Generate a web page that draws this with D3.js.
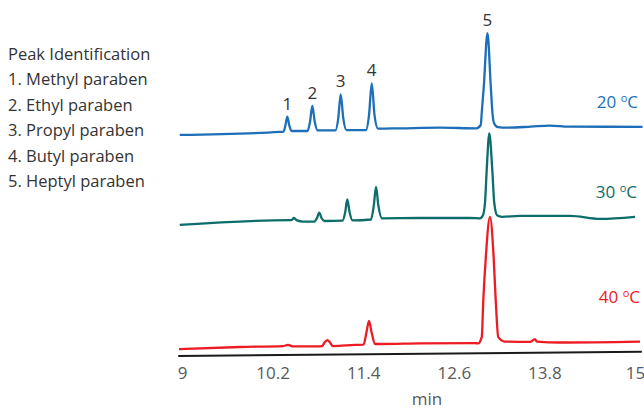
<!DOCTYPE html>
<html>
<head>
<meta charset="utf-8">
<script src="https://cdn.jsdelivr.net/npm/d3@7"></script>
<style>
  body { margin: 0; background: #fff; }
  text { font-family: "Open Sans", "Noto Sans", sans-serif; font-weight: 400; }
</style>
</head>
<body>
<svg id="chart" width="644" height="410"></svg>
<script>

// retention time (min) vs detector signal
const trace20 = [
  [8.97, 1.7], [10.30, 2.7],
  [10.344, 2.8], [10.371, 5.0], [10.395, 7.8], [10.420, 5.0], [10.450, 3.0],
  [10.662, 3.0], [10.695, 6.0], [10.726, 11.4], [10.759, 6.0], [10.795, 3.2],
  [11.033, 3.2], [11.070, 7.3], [11.102, 15.2], [11.136, 7.3], [11.179, 3.3],
  [11.437, 3.3], [11.477, 8.3], [11.513, 18.9], [11.550, 8.3], [11.596, 3.8],
  [11.887, 3.9], [12.417, 4.1], [12.900, 3.9],
  [12.957, 5.0], [12.970, 9.0], [12.997, 17.8], [13.046, 35.6], [13.090, 17.8], [13.112, 9.0], [13.132, 5.7], [13.185, 4.3],
  [13.30, 4.1], [13.62, 4.45], [13.87, 4.8], [14.13, 4.45], [15.10, 4.4]
];

const trace30 = [
  [8.97, 3.7], [10.43, 5.3],
  [10.450, 5.3], [10.483, 6.0], [10.523, 5.2], [10.603, 4.8],
  [10.755, 4.8], [10.788, 6.0], [10.818, 7.8], [10.848, 6.0], [10.887, 5.0],
  [11.126, 5.1], [11.162, 8.0], [11.189, 12.2], [11.219, 8.0], [11.258, 5.2],
  [11.503, 5.5], [11.541, 10.3], [11.570, 16.4], [11.600, 10.3], [11.649, 5.9],
  [12.152, 6.0], [12.815, 6.0], [12.947, 5.9],
  [12.983, 6.7], [13.013, 11.0], [13.036, 22.0], [13.070, 34.2], [13.110, 22.0], [13.136, 11.0], [13.176, 6.8], [13.238, 6.4],
  [13.477, 6.7], [14.139, 6.7], [14.536, 5.7], [15.00, 6.4]
];

const trace40 = [
  [8.96, 2.3], [9.768, 3.0], [10.338, 3.3],
  [10.404, 3.7], [10.470, 3.2], [10.801, 3.2],
  [10.854, 3.3], [10.894, 4.7], [10.925, 5.3], [10.954, 4.7], [11.000, 3.3],
  [11.291, 3.7],
  [11.404, 3.8], [11.444, 8.0], [11.477, 11.7], [11.510, 8.0], [11.556, 4.0], [11.623, 4.0],
  [12.152, 4.2], [12.881, 4.3], [12.921, 4.2],
  [12.970, 6.3], [12.991, 18.7], [13.026, 33.7], [13.079, 46.4], [13.126, 33.7], [13.155, 18.7], [13.189, 6.3], [13.278, 4.8],
  [13.609, 4.7], [13.675, 5.6], [13.700, 4.8], [14.007, 4.5], [15.066, 4.8]
];

const temps = ["20", "30", "40"];
const offsets = [72, 40, 0];           // vertical stacking of the traces
const colors = ["#1c6fb8", "#0c6d6b", "#ed1c24"];

const peakIds = ["1", "2", "3", "4", "5"];
const peakTimes = [10.395, 10.726, 11.102, 11.513, 13.046];
const peakHeights = [7.8, 11.4, 15.2, 18.9, 35.6];
const peakNames = ["Methyl paraben", "Ethyl paraben", "Propyl paraben", "Butyl paraben", "Heptyl paraben"];

const xTicks = [9, 10.2, 11.4, 12.6, 13.8, 15];

const svg = d3.select("#chart");

const x = d3.scaleLinear().domain([9, 15]).range([182, 635]);
const y = d3.scaleLinear().domain([0, 110]).range([356, 26]);

// axis labels, no tick marks
const axis = svg.append("g")
    .attr("transform", "translate(0,354)")
    .call(d3.axisBottom(x).tickValues(xTicks).tickSize(0).tickPadding(13)
        .tickFormat(d3.format("")));
axis.select(".domain").remove();
axis.selectAll("text")
    .style("font-size", "17px")
    .attr("fill", "#595959");

// axis line (slightly tilted as in the scan)
svg.append("line")
    .attr("x1", x(8.95)).attr("y1", 356)
    .attr("x2", x(15.09)).attr("y2", 351.7)
    .attr("stroke", "#1a1a1a")
    .attr("stroke-width", 2);

svg.append("text")
    .attr("x", 427)
    .attr("y", 405)
    .attr("text-anchor", "middle")
    .style("font-size", "17px")
    .attr("fill", "#595959")
    .text("min");

// traces
const line = d3.line()
    .x(d => x(d[0]))
    .curve(d3.curveMonotoneX);

[trace20, trace30, trace40].forEach((tr, i) => {
    svg.append("path")
        .datum(tr)
        .attr("d", line.y(d => y(d[1] + offsets[i])))
        .attr("fill", "none")
        .attr("stroke", colors[i])
        .attr("stroke-width", 2.3)
        .attr("stroke-linejoin", "round");
});

// temperature labels
const tempBaseline = [108.3, 198.3, 303.3];
const tempRight = [638, 637, 640];
temps.forEach((t, i) => {
    const lbl = svg.append("text")
        .attr("x", tempRight[i])
        .attr("y", tempBaseline[i])
        .attr("text-anchor", "end")
        .attr("fill", colors[i])
        .style("font-size", "17px");
    lbl.append("tspan").text(t + " ");
    lbl.append("tspan").attr("dy", -6).style("font-size", "11px").text("o");
    lbl.append("tspan").attr("dy", 6).text("C");
});

// peak numbers over the 20 C trace
svg.selectAll(".peak")
    .data(peakIds)
    .enter()
    .append("text")
      .attr("x", (d, i) => x(peakTimes[i]))
      .attr("y", (d, i) => y(peakHeights[i] + offsets[0]) - 7)
      .attr("text-anchor", "middle")
      .attr("fill", "#333")
      .style("font-size", "17px")
      .text(d => d);

// peak identification list
const legend = svg.append("g").attr("transform", "translate(8,59.5)");
legend.append("text")
    .attr("fill", "#333")
    .style("font-size", "16.5px")
    .text("Peak Identification");
legend.selectAll(".item")
    .data(peakNames)
    .enter()
    .append("text")
      .attr("y", (d, i) => (i + 1) * 25.5)
      .attr("fill", "#333")
      .style("font-size", "16.5px")
      .text((d, i) => peakIds[i] + ". " + d);

</script>
</body>
</html>
